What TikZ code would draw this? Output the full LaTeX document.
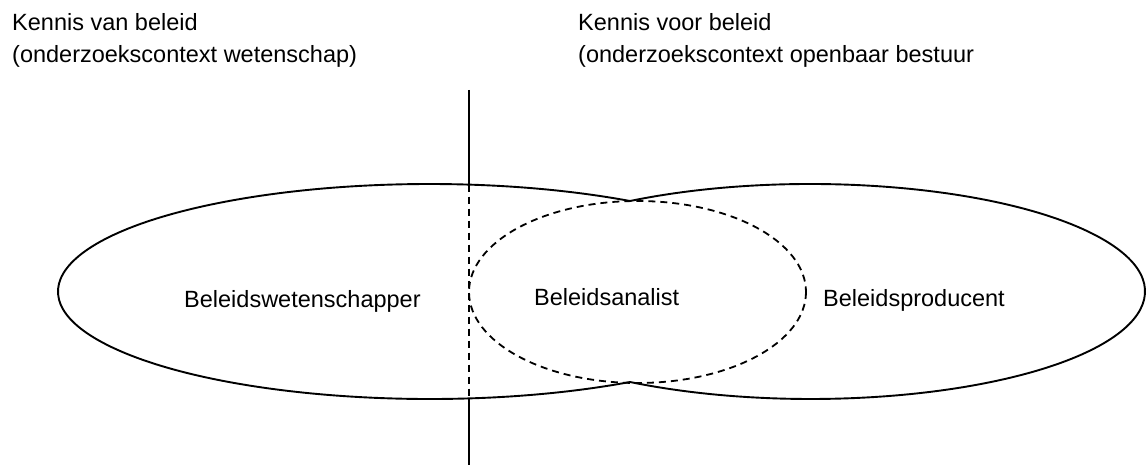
\documentclass[tikz,border=0pt]{standalone}
\usepackage{fontspec}
\setmainfont{Liberation Sans}
\begin{document}
\begin{tikzpicture}[x=1pt,y=-1pt,
  lbl/.style={inner sep=0pt,anchor=base west,font=\fontsize{23.5}{30}\selectfont},
  solidline/.style={draw=black,line width=1.9pt},
  dashline/.style={draw=black,line width=1.8pt,dash pattern=on 7pt off 5pt}]
  \useasboundingbox (0,0) rectangle (1146,465);

  % the two large domains, each drawn only outside the other one
  \coordinate (cL) at (429.5,291.5);
  \coordinate (cR) at (810.5,291.5);
  \draw[solidline] (cL) ++(57.34:371.5 and 107.5)
    arc[start angle=57.34, end angle=302.66, x radius=371.5, y radius=107.5];
  \draw[solidline] (cR) ++(-122.66:334.5 and 107.5)
    arc[start angle=-122.66, end angle=122.66, x radius=334.5, y radius=107.5];
  % the overlap zone of the analyst
  \draw[dashline] (637.5,292) ellipse [x radius=168.5, y radius=91];

  % dividing line between the two research contexts
  \coordinate (divtop) at (469.3,90);
  \coordinate (divin)  at (469.3,184.6);
  \coordinate (divout) at (469.3,398.4);
  \coordinate (divbot) at (469.3,465);
  \draw[solidline] (divtop) -- (divin);
  \draw[dashline]  (divin) -- (divout);
  \draw[solidline] (divout) -- (divbot);

  % headings
  \node[lbl] (headL1) at (12,31) {Kennis van beleid};
  \node[lbl] (headL2) at (12,62.5) {(onderzoekscontext wetenschap)};
  \node[lbl] (headR1) at (578,31) {Kennis voor beleid};
  \node[lbl] (headR2) at (578,62.5) {(onderzoekscontext openbaar bestuur};

  % roles
  \node[lbl] (wet)  at (184,307) {Beleidswetenschapper};
  \node[lbl] (ana)  at (534,305.5) {Beleidsanalist};
  \node[lbl] (prod) at (823,306) {Beleidsproducent};
\end{tikzpicture}
\end{document}
